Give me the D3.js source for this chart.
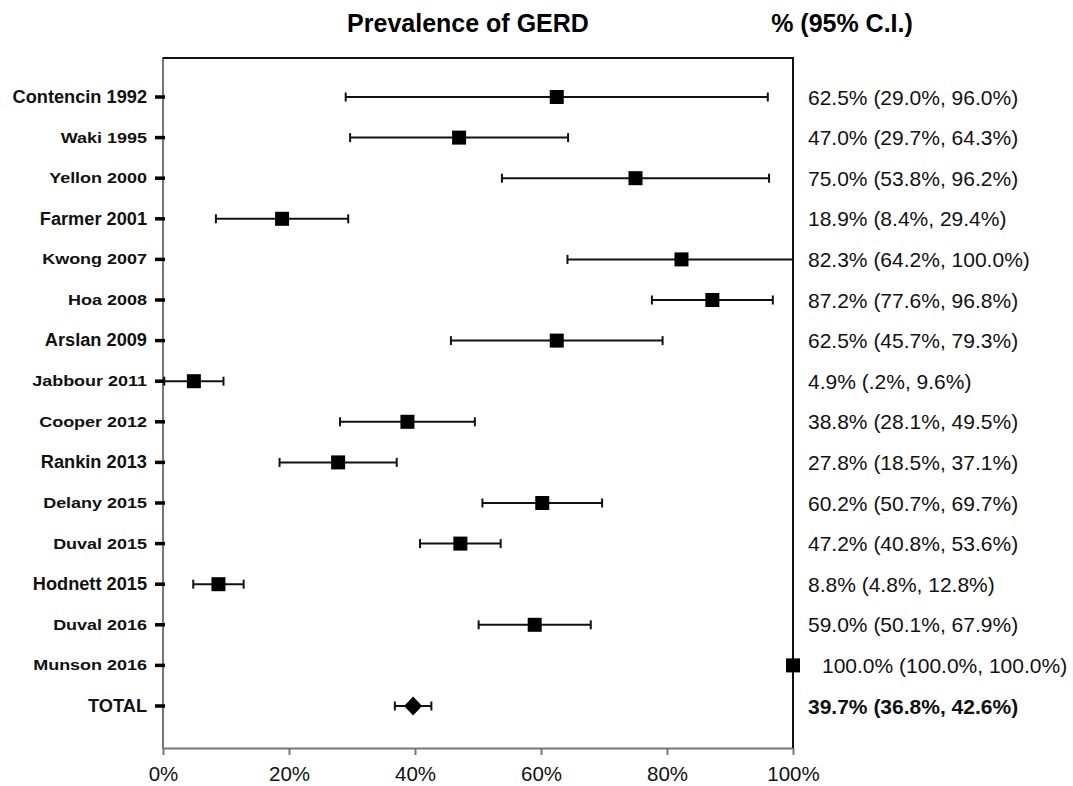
<!DOCTYPE html>
<html>
<head>
<meta charset="utf-8">
<script src="https://cdn.jsdelivr.net/npm/d3@7"></script>
<style>
  body { margin: 0; background: #fff; }
  svg { font-family: "Liberation Sans", Arial, sans-serif; }
</style>
</head>
<body>
<svg width="1073" height="786"></svg>
<script>
// studies in the forest plot, top to bottom
const studies = ["Contencin 1992", "Waki 1995", "Yellon 2000", "Farmer 2001", "Kwong 2007",
  "Hoa 2008", "Arslan 2009", "Jabbour 2011", "Cooper 2012", "Rankin 2013", "Delany 2015",
  "Duval 2015", "Hodnett 2015", "Duval 2016", "Munson 2016", "TOTAL"];
const prevalence = [62.5, 47.0, 75.0, 18.9, 82.3, 87.2, 62.5, 4.9, 38.8, 27.8, 60.2, 47.2, 8.8, 59.0, 100.0, 39.7];
const ciLow = [29.0, 29.7, 53.8, 8.4, 64.2, 77.6, 45.7, 0.2, 28.1, 18.5, 50.7, 40.8, 4.8, 50.1, 100.0, 36.8];
const ciHigh = [96.0, 64.3, 96.2, 29.4, 100.0, 96.8, 79.3, 9.6, 49.5, 37.1, 69.7, 53.6, 12.8, 67.9, 100.0, 42.6];
const xTicks = [0, 20, 40, 60, 80, 100];

// these names are printed a bit bigger in the original
const bigNames = ["Contencin 1992", "Farmer 2001", "Arslan 2009", "Rankin 2013", "Hodnett 2015", "TOTAL"];

const data = studies.map((name, i) => ({ name, est: prevalence[i], lo: ciLow[i], hi: ciHigh[i] }));

const svg = d3.select("svg");
const plotLeft = 163, plotRight = 793, plotTop = 58, plotBottom = 748;

const x = d3.scaleLinear().domain([0, 100]).range([plotLeft, plotRight]);
const y = d3.scalePoint().domain(studies).range([97, 706]);

// headers
svg.append("text").attr("x", 468).attr("y", 32).attr("text-anchor", "middle")
  .attr("font-size", 25).attr("font-weight", "bold").text("Prevalence of GERD");
svg.append("text").attr("x", 842).attr("y", 32).attr("text-anchor", "middle")
  .attr("font-size", 25).attr("font-weight", "bold").text("% (95% C.I.)");

// bottom axis (grey)
const xAxis = svg.append("g").attr("transform", `translate(0,${plotBottom})`)
  .call(d3.axisBottom(x).tickValues(xTicks).tickFormat(d => d + "%").tickSize(7).tickSizeOuter(0));
xAxis.select(".domain").attr("stroke", "#777").attr("stroke-width", 2);
xAxis.selectAll(".tick line").attr("stroke", "#777").attr("stroke-width", 2);
xAxis.selectAll(".tick text").attr("font-size", 20.5).attr("fill", "#111").attr("dy", "1.1em")
  .attr("font-family", "Liberation Sans, Arial, sans-serif");

// left axis line (grey) with black ticks
svg.append("line").attr("x1", plotLeft).attr("x2", plotLeft).attr("y1", plotTop - 1).attr("y2", plotBottom + 1)
  .attr("stroke", "#777").attr("stroke-width", 2);
svg.append("g").selectAll("line").data(studies).enter().append("line")
  .attr("x1", plotLeft - 8).attr("x2", plotLeft + 2)
  .attr("y1", d => y(d)).attr("y2", d => y(d))
  .attr("stroke", "#000").attr("stroke-width", 3.5);

// top and right borders (black)
svg.append("line").attr("x1", plotLeft).attr("x2", plotRight + 1).attr("y1", plotTop).attr("y2", plotTop)
  .attr("stroke", "#111").attr("stroke-width", 2);
svg.append("line").attr("x1", plotRight).attr("x2", plotRight).attr("y1", plotTop).attr("y2", plotBottom)
  .attr("stroke", "#111").attr("stroke-width", 2);

// study names
svg.append("g").selectAll("text").data(studies).enter().append("text")
  .attr("transform", d => bigNames.includes(d)
    ? `translate(147,${y(d)}) scale(1.04,1)`
    : `translate(147,${y(d)}) scale(1.16,1)`)
  .attr("text-anchor", "end").attr("dominant-baseline", "central")
  .attr("font-weight", "bold")
  .attr("font-size", d => bigNames.includes(d) ? 17.5 : 15.5)
  .attr("fill", "#111")
  .text(d => d);

// confidence intervals
const rows = svg.append("g").selectAll("g").data(data).enter().append("g");
rows.append("line")
  .attr("x1", d => x(d.lo)).attr("x2", d => x(d.hi))
  .attr("y1", d => y(d.name)).attr("y2", d => y(d.name))
  .attr("stroke", "#111").attr("stroke-width", 2);
rows.filter(d => d.lo < d.hi).append("line")
  .attr("x1", d => x(d.lo)).attr("x2", d => x(d.lo))
  .attr("y1", d => y(d.name) - 4.5).attr("y2", d => y(d.name) + 4.5)
  .attr("stroke", "#111").attr("stroke-width", 2);
rows.filter(d => d.lo < d.hi).append("line")
  .attr("x1", d => x(d.hi)).attr("x2", d => x(d.hi))
  .attr("y1", d => y(d.name) - 4.5).attr("y2", d => y(d.name) + 4.5)
  .attr("stroke", "#111").attr("stroke-width", 2);

// point estimates: squares for studies, diamond for the pooled total
rows.filter(d => d.name !== "TOTAL").append("rect")
  .attr("x", d => x(d.est) - 7).attr("y", d => y(d.name) - 7)
  .attr("width", 14).attr("height", 14).attr("fill", "#000");
rows.filter(d => d.name === "TOTAL").append("path")
  .attr("d", d => {
    const cx = x(d.est), cy = y(d.name);
    return `M${cx - 9},${cy} L${cx},${cy - 9.5} L${cx + 9},${cy} L${cx},${cy + 9.5} Z`;
  })
  .attr("fill", "#000");

// value labels on the right
const f = v => {
  const s = d3.format(".1f")(v);
  return v < 1 ? s.replace(/^0/, "") : s;
};
svg.append("g").selectAll("text").data(data).enter().append("text")
  .attr("x", d => d.est === 100 ? 822 : 808)
  .attr("y", d => y(d.name))
  .attr("dominant-baseline", "central")
  .attr("font-size", 21)
  .attr("font-weight", d => d.name === "TOTAL" ? "bold" : "normal")
  .attr("fill", "#111")
  .text(d => `${f(d.est)}% (${f(d.lo)}%, ${f(d.hi)}%)`);
</script>
</body>
</html>
